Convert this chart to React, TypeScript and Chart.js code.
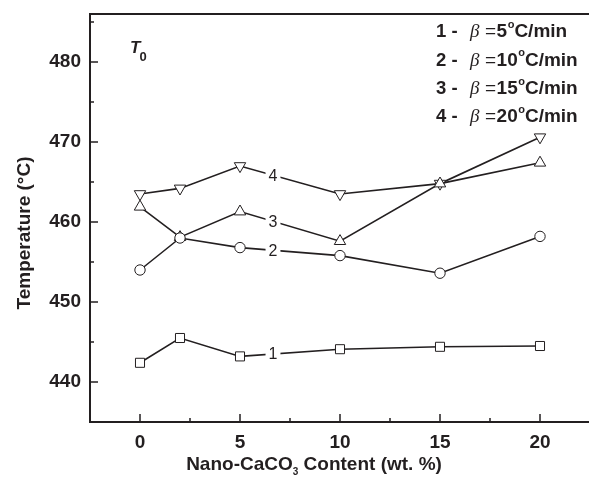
import { useEffect, useRef } from 'react';
import { Chart, registerables } from 'chart.js';

Chart.register(...registerables);

// ---- data ----
const contents = [0, 2, 5, 10, 15, 20];
const rate5 = [442.4, 445.5, 443.2, 444.1, 444.4, 444.5];
const rate10 = [454.0, 458.0, 456.8, 455.8, 453.6, 458.2];
const rate15 = [461.9, 458.1, 461.3, 457.6, 464.8, 467.4];
const rate20 = [463.5, 464.2, 467.0, 463.5, 464.8, 470.6];
const seriesNames = ['1', '2', '3', '4'];
const heatingRates = ['5', '10', '15', '20'];
const xTicks = [0, 5, 10, 15, 20];
const yTicks = [440, 450, 460, 470, 480];
const lineLabelAt = 6.65;

const INK = '#231f20';
const SANS = '"Liberation Sans", Arial, Helvetica, sans-serif';

const allSeries = [rate5, rate10, rate15, rate20];

function valueAt(series: number[], xv: number) {
  for (let i = 0; i < contents.length - 1; i++) {
    const x0 = contents[i], x1 = contents[i + 1];
    if (xv >= x0 && xv <= x1) {
      const t = (xv - x0) / (x1 - x0);
      return series[i] + t * (series[i + 1] - series[i]);
    }
  }
  return series[series.length - 1];
}

const decor = {
  id: 'decor',
  beforeDatasetsDraw(chart: any) {
    const { ctx, chartArea: a, scales } = chart;
    const x = scales.x, y = scales.y;
    ctx.save();
    ctx.strokeStyle = INK;
    ctx.lineWidth = 2;
    ctx.beginPath();
    ctx.moveTo(a.left - 1, a.top);
    ctx.lineTo(a.right + 2, a.top);
    ctx.moveTo(a.left, a.top);
    ctx.lineTo(a.left, a.bottom);
    ctx.moveTo(a.left - 1, a.bottom);
    ctx.lineTo(a.right + 2, a.bottom);
    ctx.stroke();
    ctx.lineWidth = 1.5;
    ctx.beginPath();
    const xmin = x.min, xmax = x.max;
    xTicks.forEach((v) => {
      const px = x.getPixelForValue(v);
      ctx.moveTo(px, a.bottom);
      ctx.lineTo(px, a.bottom - 8);
      const m = v + 2.5;
      if (m > xmin && m < xmax) {
        const pm = x.getPixelForValue(m);
        ctx.moveTo(pm, a.bottom);
        ctx.lineTo(pm, a.bottom - 4);
      }
    });
    yTicks.forEach((v) => {
      const py = y.getPixelForValue(v);
      ctx.moveTo(a.left, py);
      ctx.lineTo(a.left + 8, py);
      const m = v + 5;
      if (m > y.min && m < y.max) {
        const pm = y.getPixelForValue(m);
        ctx.moveTo(a.left, pm);
        ctx.lineTo(a.left + 4, pm);
      }
    });
    ctx.stroke();
    ctx.restore();
  },
  afterDatasetsDraw(chart: any) {
    const { ctx, scales } = chart;
    const x = scales.x, y = scales.y;
    ctx.save();
    ctx.fillStyle = INK;

    // inline series labels
    ctx.font = `16px ${SANS}`;
    ctx.textAlign = 'center';
    ctx.textBaseline = 'middle';
    allSeries.forEach((s, i) => {
      const px = x.getPixelForValue(lineLabelAt);
      const py = y.getPixelForValue(valueAt(s, lineLabelAt));
      const w = ctx.measureText(seriesNames[i]).width;
      ctx.fillStyle = '#ffffff';
      ctx.fillRect(px - w / 2 - 3, py - 7, w + 6, 14);
      ctx.fillStyle = INK;
      ctx.fillText(seriesNames[i], px, py + 1);
    });

    // legend text (top right)
    ctx.textAlign = 'left';
    ctx.textBaseline = 'alphabetic';
    const legY = [37, 65.5, 94, 122];
    seriesNames.forEach((n, i) => {
      const by = legY[i];
      ctx.font = `bold 18.5px ${SANS}`;
      ctx.fillText(`${n} -`, 436, by);
      ctx.font = `italic 19px "Liberation Serif", "Times New Roman", serif`;
      ctx.fillText('\u03B2', 470, by);
      ctx.font = `19px ${SANS}`;
      ctx.fillText('=', 485, by);
      let cx = 485 + ctx.measureText('=').width + 0.5;
      ctx.font = `bold 19px ${SANS}`;
      ctx.fillText(heatingRates[i], cx, by);
      cx += ctx.measureText(heatingRates[i]).width + 0.5;
      ctx.font = `bold 11px ${SANS}`;
      ctx.fillText('o', cx, by - 9.5);
      cx += ctx.measureText('o').width;
      ctx.font = `bold 19px ${SANS}`;
      ctx.fillText('C/min', cx, by);
    });

    // T0 annotation
    ctx.font = `italic bold 17px ${SANS}`;
    ctx.fillText('T', 130, 53);
    const tw = ctx.measureText('T').width;
    ctx.font = `bold 13px ${SANS}`;
    ctx.fillText('0', 130 + tw - 1, 61);

    // x-axis title with subscript
    const partA = 'Nano-CaCO';
    const sub = '3';
    const partB = ' Content (wt. %)';
    ctx.font = `bold 19px ${SANS}`;
    const wa = ctx.measureText(partA).width;
    const wb = ctx.measureText(partB).width;
    ctx.font = `bold 10px ${SANS}`;
    const ws = ctx.measureText(sub).width;
    let sx = 314 - (wa + ws + wb) / 2;
    const sy = 470;
    ctx.font = `bold 19px ${SANS}`;
    ctx.fillText(partA, sx, sy);
    sx += wa;
    ctx.font = `bold 10px ${SANS}`;
    ctx.fillText(sub, sx, sy + 5);
    sx += ws;
    ctx.font = `bold 19px ${SANS}`;
    ctx.fillText(partB, sx, sy);

    // y-axis title
    ctx.translate(30, 233);
    ctx.rotate(-Math.PI / 2);
    ctx.textAlign = 'center';
    ctx.font = `bold 19px ${SANS}`;
    ctx.fillText('Temperature (\u00B0C)', 0, 0);
    ctx.restore();
  },
};

const styles = [
  { pointStyle: 'rect', radius: 6.4, rotation: 0 },
  { pointStyle: 'circle', radius: 5.2, rotation: 0 },
  { pointStyle: 'triangle', radius: 6.6, rotation: 0 },
  { pointStyle: 'triangle', radius: 6.6, rotation: 180 },
];

function zeroPad(s: any) {
  s.paddingLeft = 0;
  s.paddingRight = 0;
  s.paddingTop = 0;
  s.paddingBottom = 0;
}

export default function App() {
  const ref = useRef<HTMLCanvasElement | null>(null);
  useEffect(() => {
    document.body.style.margin = '0';
    const canvas = ref.current;
    if (!canvas) return;
    const tickFont = { family: SANS, size: 19, weight: 'bold' as const };
    const chart = new Chart(canvas, {
      type: 'scatter',
      data: {
        datasets: allSeries.map((s, i) => ({
          label: seriesNames[i],
          data: contents.map((c, j) => ({ x: c, y: s[j] })),
          showLine: true,
          borderColor: INK,
          borderWidth: 1.6,
          pointStyle: styles[i].pointStyle as any,
          pointRadius: styles[i].radius,
          pointRotation: styles[i].rotation,
          pointBackgroundColor: '#ffffff',
          pointBorderColor: INK,
          pointBorderWidth: 1,
          tension: 0,
        })),
      },
      options: {
        animation: false,
        responsive: false,
        maintainAspectRatio: false,
        layout: { autoPadding: false, padding: { top: 14, right: 0, bottom: 0, left: 0 } },
        plugins: { legend: { display: false }, tooltip: { enabled: false } },
        scales: {
          x: {
            type: 'linear',
            min: -2.5,
            max: 22.45,
            afterBuildTicks: (s: any) => {
              s.ticks = xTicks.map((v) => ({ value: v }));
            },
            afterFit: (s: any) => {
              s.height = 56;
              zeroPad(s);
            },
            grid: { display: false, drawTicks: false },
            border: { display: false },
            ticks: { font: tickFont, color: INK, padding: 9, maxRotation: 0 },
          },
          y: {
            type: 'linear',
            min: 435,
            max: 486,
            afterBuildTicks: (s: any) => {
              s.ticks = yTicks.map((v) => ({ value: v }));
            },
            afterFit: (s: any) => {
              s.width = 90;
              zeroPad(s);
            },
            grid: { display: false, drawTicks: false },
            border: { display: false },
            ticks: { font: tickFont, color: INK, padding: 9 },
          },
        },
      },
      plugins: [decor],
    });
    return () => chart.destroy();
  }, []);
  return (
    <canvas ref={ref} width={589} height={478} style={{ display: 'block' }} />
  );
}
